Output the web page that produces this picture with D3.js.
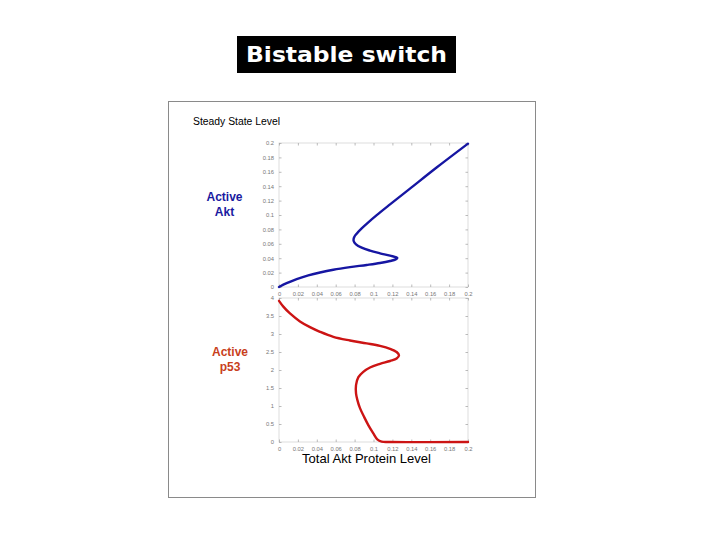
<!DOCTYPE html>
<html><head><meta charset="utf-8">
<script src="https://cdn.jsdelivr.net/npm/d3@7"></script>
<style>html,body{margin:0;padding:0;background:#fff;}</style>
</head><body>
<svg id="c" width="720" height="540"></svg>
<script>
// ---- data ----
const xTicks = [0,0.02,0.04,0.06,0.08,0.1,0.12,0.14,0.16,0.18,0.2];
const aktYTicks = [0,0.02,0.04,0.06,0.08,0.1,0.12,0.14,0.16,0.18,0.2];
const p53YTicks = [0,0.5,1,1.5,2,2.5,3,3.5,4];

const totalAktA = [0, 0.0081, 0.0187, 0.031, 0.0434, 0.0575, 0.0751, 0.0928, 0.1069, 0.1175, 0.1235, 0.1252,
  0.1175, 0.1069, 0.0963, 0.0875, 0.0815, 0.079, 0.0794, 0.0822, 0.0875, 0.0945, 0.1034, 0.1175, 0.1386, 0.1668, 0.2];
const activeAkt = [0, 0.0053, 0.0110, 0.0161, 0.0202, 0.0240, 0.0276, 0.0306, 0.0333, 0.0361, 0.0384, 0.0403,
  0.0435, 0.0468, 0.0505, 0.0546, 0.0593, 0.0639, 0.0687, 0.0741, 0.0814, 0.0898, 0.0998, 0.1147, 0.1366, 0.1659, 0.1991];

const totalAktP = [0, 0.0046, 0.0116, 0.0222, 0.0328, 0.0434, 0.0575, 0.0751, 0.0928, 0.1069, 0.1175, 0.1245, 0.127,
  0.1245, 0.1175, 0.1069, 0.0963, 0.0892, 0.084, 0.0815, 0.0815, 0.0829, 0.0857, 0.09, 0.0945, 0.0998, 0.104, 0.1086, 0.1175, 0.2];
const activeP53 = [3.92, 3.76, 3.57, 3.35, 3.19, 3.06, 2.92, 2.82, 2.74, 2.67, 2.59, 2.50, 2.41,
  2.32, 2.25, 2.17, 2.07, 1.95, 1.80, 1.58, 1.35, 1.17, 0.94, 0.70, 0.47, 0.24, 0.074, 0.01, 0.0, 0.0];

// ---- drawing ----
const svg = d3.select("#c");
const F = "'Liberation Sans', Arial, sans-serif";

// title
svg.append("rect").attr("x",237).attr("y",36).attr("width",219).attr("height",37).attr("fill","#000");
svg.append("text").attr("x",246).attr("y",62).attr("font-family","'DejaVu Sans', sans-serif").attr("font-weight","bold")
  .attr("font-size",20.5).attr("fill","#fff").attr("textLength",201).attr("lengthAdjust","spacingAndGlyphs")
  .text("Bistable switch");

// panel
svg.append("rect").attr("x",168.5).attr("y",101.5).attr("width",367).attr("height",396)
  .attr("fill","#fff").attr("stroke","#8a8a8a").attr("stroke-width",1);

svg.append("text").attr("x",193).attr("y",125).attr("font-family",F).attr("font-size",10)
  .attr("fill","#000").attr("textLength",87).attr("lengthAdjust","spacingAndGlyphs").text("Steady State Level");

const left = 279, right = 468;
const x = d3.scaleLinear().domain([0,0.2]).range([left,right]);
const yA = d3.scaleLinear().domain([0,0.2]).range([287,143]);
const yP = d3.scaleLinear().domain([0,4]).range([442,298]);

function fmt(v){ return d3.format("~g")(+v.toFixed(3)); }

function panel(y, yTicks, xs, ys, color){
  const g = svg.append("g");
  const [y0,y1] = y.range();
  g.append("rect").attr("x",left).attr("y",y1).attr("width",right-left).attr("height",y0-y1)
    .attr("fill","none").attr("stroke","#d4d4d4").attr("stroke-width",0.8);
  const ax = (axis, tr) => {
    const a = g.append("g").attr("transform",tr).call(axis);
    a.select(".domain").remove();
    a.selectAll("line").attr("stroke","#aaa").attr("stroke-width",0.8);
    a.selectAll("text").attr("font-family",F).attr("font-size",5.8).attr("fill","#777");
    return a;
  };
  ax(d3.axisBottom(x).tickValues(xTicks).tickSize(-2.5).tickPadding(4.5).tickFormat(fmt), `translate(0,${y0})`);
  ax(d3.axisTop(x).tickValues(xTicks).tickSize(-2.5).tickFormat(""), `translate(0,${y1})`);
  ax(d3.axisLeft(y).tickValues(yTicks).tickSize(-2.5).tickPadding(5).tickFormat(fmt), `translate(${left},0)`);
  ax(d3.axisRight(y).tickValues(yTicks).tickSize(-2.5).tickFormat(""), `translate(${right},0)`);
  const pts = xs.map((v,i)=>[v, ys[i]]);
  g.append("path").datum(pts)
    .attr("d", d3.line().x(d=>x(d[0])).y(d=>y(d[1])).curve(d3.curveCatmullRom.alpha(0.5)))
    .attr("fill","none").attr("stroke",color).attr("stroke-width",2.4)
    .attr("stroke-linejoin","round").attr("stroke-linecap","round");
}

panel(yA, aktYTicks, totalAktA, activeAkt, "#1616a2");
panel(yP, p53YTicks, totalAktP, activeP53, "#cc1414");

// side labels
const lab = (txt, cx, cy, col) => svg.append("text").attr("x",cx).attr("y",cy).attr("text-anchor","middle")
  .attr("font-family",F).attr("font-weight","bold").attr("font-size",12).attr("fill",col).text(txt);
lab("Active", 224.5, 201, "#1a1aa0");
lab("Akt", 224.5, 216, "#1a1aa0");
lab("Active", 230, 356, "#c8401c");
lab("p53", 230, 371, "#c8401c");

svg.append("text").attr("x",302).attr("y",463).attr("font-family",F).attr("font-size",13)
  .attr("fill","#000").attr("textLength",129).attr("lengthAdjust","spacingAndGlyphs").text("Total Akt Protein Level");
</script>
</body></html>
